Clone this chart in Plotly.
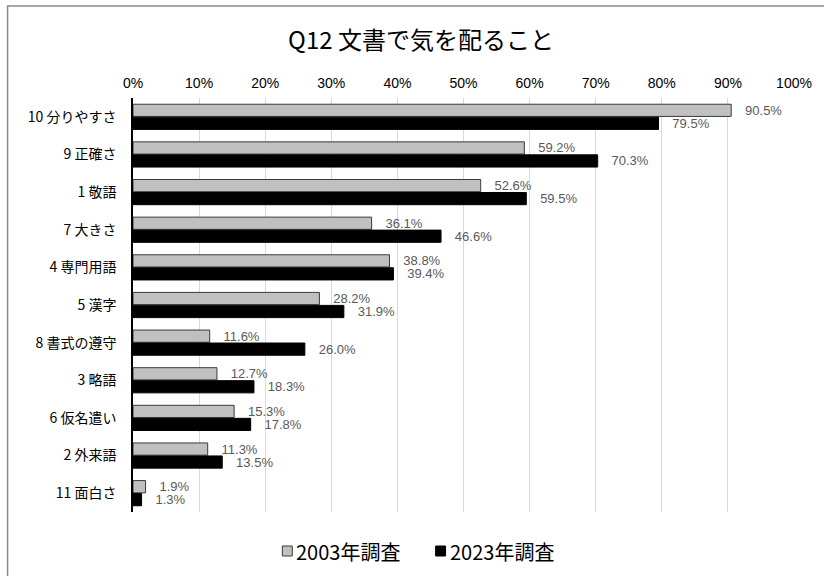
import plotly.graph_objects as go

# Survey items (top to bottom) and percentage of respondents per survey year
categories = ["10 分りやすさ", "9 正確さ", "1 敬語", "7 大きさ", "4 専門用語", "5 漢字",
              "8 書式の遵守", "3 略語", "6 仮名遣い", "2 外来語", "11 面白さ"]
survey_2003 = [90.5, 59.2, 52.6, 36.1, 38.8, 28.2, 11.6, 12.7, 15.3, 11.3, 1.9]
survey_2023 = [79.5, 70.3, 59.5, 46.6, 39.4, 31.9, 26.0, 18.3, 17.8, 13.5, 1.3]
series_names = ["2003年調査", "2023年調査"]
series_fill = ["#c0c0c0", "#000000"]
series_edge = ["#3a3a3a", "#000000"]
x_ticks = list(range(0, 101, 10))

W, H = 824, 576
L, R, T, B = 133, 27, 98, 64
FONT = "Noto Sans CJK JP, Noto Sans, sans-serif"
NUM_FONT = "Liberation Sans, Arial, sans-serif"

fig = go.Figure()
for name, vals, fill, edge in zip(series_names, [survey_2003, survey_2023], series_fill, series_edge):
    fig.add_trace(go.Bar(
        y=categories, x=vals, name=name, orientation="h",
        marker=dict(color=fill, line=dict(color=edge, width=1)),
        text=vals, texttemplate="   %{x:.1f}%", textposition="outside",
        textfont=dict(size=13, color="#595959", family=NUM_FONT),
        constraintext="none", cliponaxis=False, showlegend=False,
    ))

pw = W - L - R
ph = H - T - B


def px_x(px):
    return (px - L) / pw


def px_y(py):
    return ((H - B) - py) / ph


fig.update_layout(
    width=W, height=H,
    margin=dict(l=L, r=R, t=T, b=B),
    paper_bgcolor="white", plot_bgcolor="white",
    font=dict(family=FONT, color="#000000"),
    barmode="group", bargap=0.31, bargroupgap=0.06,
    title=dict(text="Q12 文書で気を配ること", x=421 / W, xanchor="center",
               y=1 - 41 / H, yanchor="middle", yref="container",
               font=dict(size=24, color="#000000", family=FONT)),
    xaxis=dict(side="top", range=[0, 100], tickvals=x_ticks,
               ticktext=[f"{v}%" for v in x_ticks],
               showgrid=True, gridcolor="#d9d9d9", gridwidth=1,
               zeroline=False, showline=False, ticks="",
               ticklabelstandoff=6,
               tickfont=dict(size=14, color="#000000", family=NUM_FONT)),
    yaxis=dict(autorange="reversed", showline=True, linecolor="#000000", linewidth=1.5,
               ticks="", showgrid=False, ticklabelstandoff=12,
               tickfont=dict(size=14, color="#000000", family=FONT)),
    showlegend=False,
)

# outer chart frame
fig.add_shape(type="rect", xref="paper", yref="paper",
              x0=px_x(7), x1=px_x(W + 20), y0=px_y(H + 20), y1=px_y(6),
              line=dict(color="#8a8a8a", width=1.5), fillcolor="rgba(0,0,0,0)",
              layer="below")

# legend: swatch followed directly by the series name
legend_x = [283, 437]
for name, fill, edge, lx in zip(series_names, series_fill, series_edge, legend_x):
    fig.add_shape(type="rect", xref="paper", yref="paper",
                  x0=px_x(lx), x1=px_x(lx + 10), y0=px_y(556), y1=px_y(546),
                  line=dict(color=edge, width=1), fillcolor=fill)
    fig.add_annotation(text=name, xref="paper", yref="paper",
                       x=px_x(lx + 12), y=px_y(551), xanchor="left", yanchor="middle",
                       showarrow=False, font=dict(size=20, color="#000000", family=FONT))

fig.write_html("out.html")
